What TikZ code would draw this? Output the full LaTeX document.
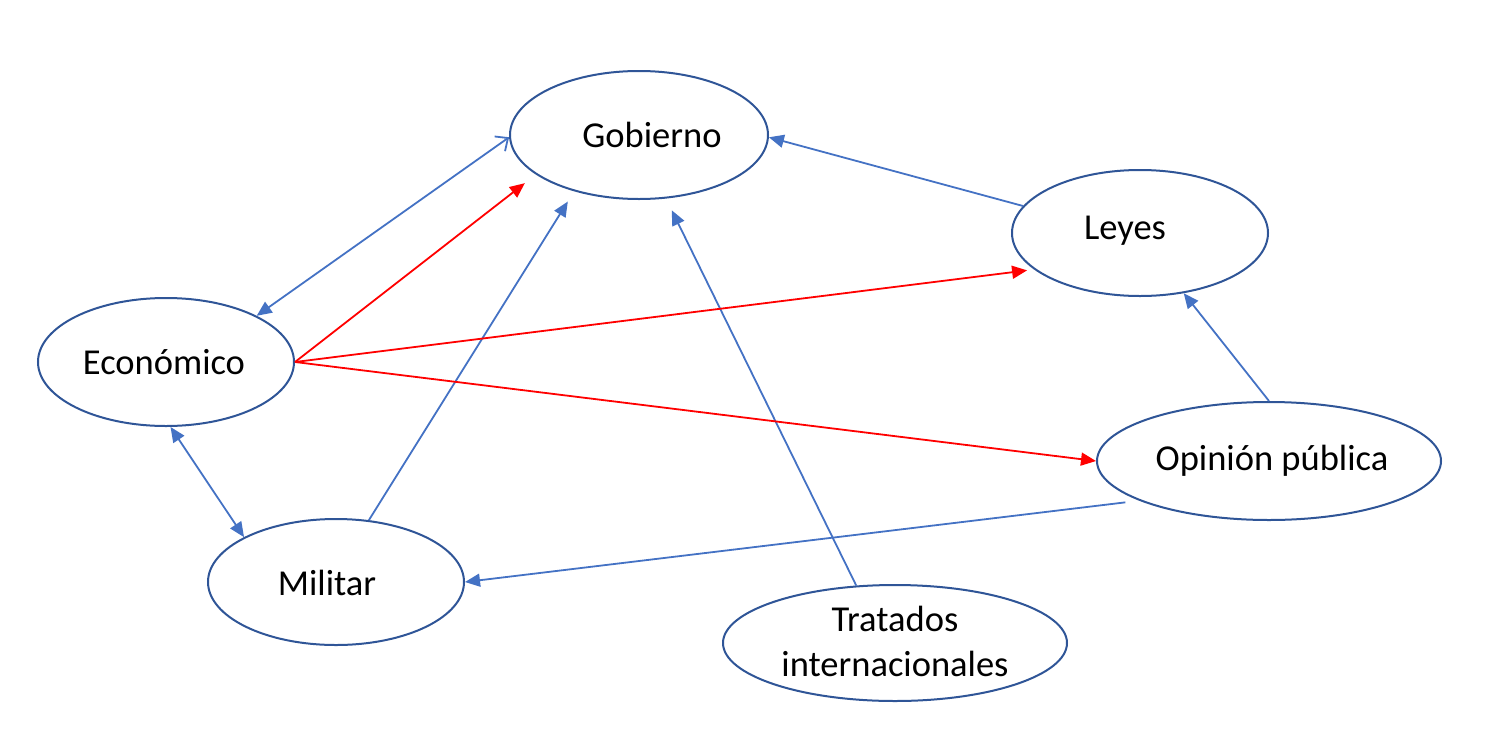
\documentclass[tikz,border=0pt]{standalone}
\usepackage{fontspec}
\setmainfont{Carlito}
\usetikzlibrary{shapes.geometric,arrows.meta}
\definecolor{elb}{HTML}{2F5597}
\definecolor{lnb}{HTML}{4472C4}
\definecolor{lnr}{HTML}{FF0000}
\begin{document}
\begin{tikzpicture}[x=1pt,y=-1pt,
  ell/.style={ellipse, draw=elb, line width=2pt, inner sep=0pt},
  lbl/.style={font=\fontsize{36.5}{45}\selectfont, align=center, inner sep=0pt},
  blu/.style={draw=lnb, line width=1.8pt, -{Triangle[length=15pt,width=13pt]}},
  redarrow/.style={draw=lnr, line width=1.8pt, -{Triangle[length=15pt,width=13pt]}}
]
\useasboundingbox (0,0) rectangle (1510,750);
% ellipses
\node[ell, minimum width=258pt, minimum height=128pt] (gob) at (639,135) {};
\node[ell, minimum width=256pt, minimum height=126pt] (ley) at (1140,233) {};
\node[ell, minimum width=256pt, minimum height=128pt] (eco) at (166,362) {};
\node[ell, minimum width=344pt, minimum height=118pt] (op) at (1269,461) {};
\node[ell, minimum width=256pt, minimum height=126pt] (mil) at (336,582) {};
\node[ell, minimum width=344pt, minimum height=116pt] (trat) at (895,643) {};
% labels
\node[lbl] (tgob) at (652,135) {Gobierno};
\node[lbl] (tley) at (1125,231) {Leyes};
\node[lbl] (teco) at (164,362) {Económico};
\node[lbl] (top) at (1272,461) {Opinión pública};
\node[lbl] (tmil) at (327,583) {Militar};
\node[lbl] (ttrat) at (895,641) {Tratados\\internacionales};
% connectors
\draw[blu, {Triangle[length=15pt,width=13pt]}-{Straight Barb[length=10pt,width=18pt]}] (eco.27) -- (gob.181);
\draw[redarrow, shorten >=14pt] (eco.east) -- (gob.201);
\draw[blu, shorten >=12pt] (mil.62) -- (gob.221);
\draw[blu, shorten >=13pt] (trat.124) -- (gob.293);
\draw[blu] (ley.167) -- (gob.359);
\draw[redarrow, shorten >=7pt] (eco.east) -- (ley.199);
\draw[redarrow] (eco.east) -- (op.west);
\draw[blu] (op.north) -- (ley.306);
\draw[blu, shorten <=14pt] (op.197) -- (mil.east);
\draw[blu, {Triangle[length=15pt,width=13pt]}-{Triangle[length=15pt,width=13pt]}] (eco.274) -- (mil.154);
\end{tikzpicture}
\end{document}
